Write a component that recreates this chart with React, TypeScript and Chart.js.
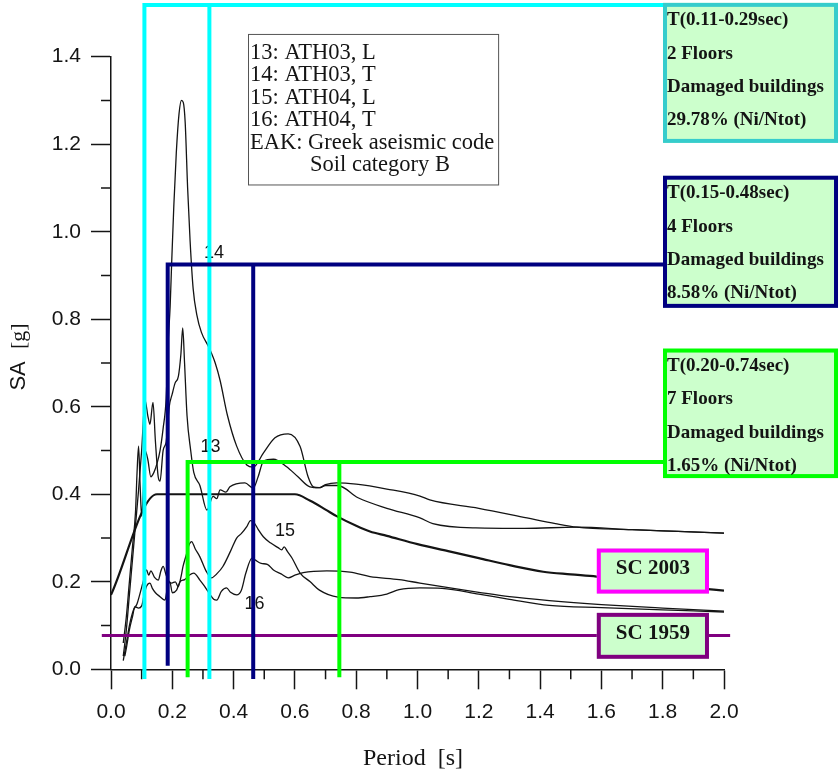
import React, { useEffect, useRef } from "react";
import { Chart, registerables } from "chart.js";

Chart.register(...registerables);

// ---------- data (period [s], SA [g]) ----------
const ath03L: [number, number][] = [
  [0.04, 0.03], [0.05, 0.09], [0.06, 0.17], [0.07, 0.25], [0.08, 0.33], [0.09, 0.41], [0.1, 0.5],
  [0.111, 0.615], [0.12, 0.58], [0.127, 0.56], [0.137, 0.61], [0.145, 0.52], [0.154, 0.44], [0.16, 0.43],
  [0.17, 0.5], [0.18, 0.52], [0.19, 0.6], [0.2, 0.63], [0.209, 0.654], [0.22, 0.67], [0.228, 0.72],
  [0.234, 0.78], [0.24, 0.7], [0.248, 0.58], [0.26, 0.5], [0.27, 0.45], [0.29, 0.42], [0.313, 0.364],
  [0.333, 0.395], [0.345, 0.39], [0.356, 0.41], [0.375, 0.405], [0.388, 0.417], [0.437, 0.426],
  [0.464, 0.414], [0.48, 0.44], [0.497, 0.475], [0.53, 0.48], [0.573, 0.463], [0.61, 0.44],
  [0.649, 0.417], [0.68, 0.415], [0.7, 0.42], [0.74, 0.42], [0.806, 0.392], [0.9, 0.368],
  [1.008, 0.346], [1.05, 0.333], [1.19, 0.323], [1.35, 0.322], [1.52, 0.325], [1.7, 0.319],
  [1.85, 0.315], [2.0, 0.311],
];
const ath03T: [number, number][] = [
  [0.04, 0.06], [0.05, 0.12], [0.06, 0.2], [0.07, 0.28], [0.08, 0.36], [0.085, 0.45], [0.09, 0.51],
  [0.095, 0.42], [0.1, 0.35], [0.105, 0.4], [0.111, 0.5], [0.12, 0.48], [0.13, 0.44], [0.14, 0.45],
  [0.15, 0.47], [0.16, 0.5], [0.17, 0.55], [0.18, 0.62], [0.186, 0.74], [0.193, 0.83], [0.198, 0.93],
  [0.205, 1.06], [0.213, 1.18], [0.222, 1.27], [0.23, 1.3], [0.236, 1.295], [0.242, 1.25], [0.25, 1.1],
  [0.258, 0.98], [0.268, 0.87], [0.28, 0.81], [0.295, 0.77], [0.32, 0.735], [0.34, 0.7], [0.356, 0.66],
  [0.38, 0.58], [0.41, 0.51], [0.443, 0.467], [0.464, 0.462], [0.497, 0.494], [0.535, 0.529],
  [0.578, 0.538], [0.617, 0.509], [0.643, 0.44], [0.66, 0.417], [0.68, 0.415], [0.7, 0.422],
  [0.736, 0.426], [0.8, 0.423], [0.9, 0.412], [1.008, 0.396], [1.04, 0.387], [1.2, 0.368],
  [1.357, 0.346], [1.45, 0.333], [1.52, 0.325], [1.7, 0.319], [1.85, 0.315], [2.0, 0.311],
];
const ath04L: [number, number][] = [
  [0.04, 0.02], [0.05, 0.06], [0.06, 0.1], [0.073, 0.135], [0.085, 0.15], [0.095, 0.174], [0.105, 0.2],
  [0.116, 0.227], [0.123, 0.215], [0.13, 0.225], [0.142, 0.21], [0.154, 0.204], [0.163, 0.225],
  [0.17, 0.235], [0.18, 0.215], [0.19, 0.2], [0.198, 0.197], [0.21, 0.2], [0.219, 0.189], [0.228, 0.21],
  [0.235, 0.235], [0.245, 0.26], [0.255, 0.285], [0.263, 0.292], [0.275, 0.275], [0.29, 0.257],
  [0.31, 0.225], [0.328, 0.209], [0.345, 0.218], [0.365, 0.235], [0.39, 0.27], [0.41, 0.3],
  [0.425, 0.31], [0.443, 0.326], [0.455, 0.34], [0.465, 0.337], [0.48, 0.32], [0.497, 0.303],
  [0.52, 0.289], [0.545, 0.278], [0.557, 0.273], [0.565, 0.28], [0.575, 0.27], [0.59, 0.255],
  [0.617, 0.22], [0.65, 0.2], [0.68, 0.181], [0.741, 0.165], [0.8, 0.163], [0.845, 0.166],
  [0.9, 0.172], [0.94, 0.182], [1.008, 0.186], [1.08, 0.185], [1.2, 0.172], [1.3, 0.16],
  [1.43, 0.146], [1.6, 0.141], [1.8, 0.136], [2.0, 0.131],
];
const ath04T: [number, number][] = [
  [0.045, 0.03], [0.051, 0.052], [0.06, 0.09], [0.07, 0.12], [0.078, 0.143], [0.09, 0.14], [0.1, 0.145],
  [0.108, 0.17], [0.116, 0.19], [0.127, 0.197], [0.135, 0.185], [0.145, 0.175], [0.16, 0.166],
  [0.176, 0.158], [0.185, 0.19], [0.192, 0.2], [0.2, 0.175], [0.214, 0.181], [0.225, 0.2], [0.24, 0.205],
  [0.255, 0.215], [0.27, 0.22], [0.29, 0.204], [0.305, 0.19], [0.32, 0.174], [0.335, 0.16],
  [0.345, 0.158], [0.36, 0.178], [0.377, 0.186], [0.39, 0.176], [0.41, 0.17], [0.425, 0.18],
  [0.44, 0.22], [0.46, 0.254], [0.47, 0.25], [0.49, 0.242], [0.51, 0.24], [0.53, 0.227],
  [0.555, 0.218], [0.578, 0.209], [0.6, 0.215], [0.627, 0.221], [0.704, 0.225], [0.78, 0.222],
  [0.845, 0.212], [0.94, 0.205], [1.008, 0.197], [1.106, 0.186], [1.2, 0.176], [1.3, 0.166],
  [1.43, 0.157], [1.6, 0.148], [1.8, 0.14], [2.0, 0.133],
];
const eakSpectrum: [number, number][] = [
  [0, 0.17], [0.15, 0.4], [0.6, 0.4], [0.65, 0.385], [0.7, 0.365], [0.736, 0.35], [0.8, 0.328],
  [0.845, 0.315], [0.9, 0.305], [1.0, 0.286], [1.1, 0.27], [1.2, 0.254], [1.3, 0.238], [1.41, 0.223],
  [1.5, 0.217], [1.584, 0.212], [1.7, 0.2], [1.8, 0.193], [1.9, 0.186], [2.0, 0.18],
];

const curveLabels = ["13", "14", "15", "16"];
const curveLabelAt: [number, number][] = [[0.325, 0.507], [0.336, 0.951], [0.568, 0.316], [0.468, 0.149]];

const legendLines = [
  "13: ATH03, L",
  "14: ATH03, T",
  "15: ATH04, L",
  "16: ATH04, T",
  "EAK: Greek aseismic code",
  "Soil category B",
];

const floorTexts = [
  ["T(0.11-0.29sec)", "2 Floors", "Damaged buildings", "29.78% (Ni/Ntot)"],
  ["T(0.15-0.48sec)", "4 Floors", "Damaged buildings", "8.58% (Ni/Ntot)"],
  ["T(0.20-0.74sec)", "7 Floors", "Damaged buildings", "1.65% (Ni/Ntot)"],
];
const floorPeriods: [number, number][] = [[0.109, 0.321], [0.185, 0.464], [0.25, 0.745]];
const floorLevels = [1.518, 0.925, 0.474];
const floorBases: [number, number][] = [[-0.022, -0.022], [0.008, -0.022], [-0.018, -0.018]];

const sc1959Level = 0.077;
const sc1959Span: [number, number] = [-0.03, 2.02];

// ---------- annotation placement (axis units) ----------
const floorBoxX: [number, number] = [1.801, 2.372];
const floorBoxY: [number, number][] = [[1.523, 1.203], [1.128, 0.826], [0.733, 0.437]];
const scBoxX: [number, number] = [1.585, 1.951];
const sc2003BoxY: [number, number] = [0.276, 0.173];
const sc1959BoxY: [number, number] = [0.129, 0.024];
const legendBoxX: [number, number] = [0.447, 1.263];
const legendBoxY: [number, number] = [1.452, 1.108];

const LINE_COLORS = ["#00ffff", "#000080", "#00ff00"];
const BOX_COLORS = ["#36cccc", "#000080", "#00ff00"];
const BOX_FILL = "#ccffcc";
const INK = "#141414";
const SANS = '"Liberation Sans", Arial, Helvetica, sans-serif';
const SERIF = '"Liberation Serif", "Times New Roman", serif';

const overlayPlugin = {
  id: "overlay",
  afterDatasetsDraw(chart: any) {
    const { ctx } = chart;
    const xs = chart.scales.x;
    const ys = chart.scales.y;
    const X = (v: number) => xs.getPixelForValue(v);
    const Y = (v: number) => ys.getPixelForValue(v);
    ctx.save();

    // minor ticks
    ctx.strokeStyle = INK;
    ctx.lineWidth = 1.5;
    ctx.beginPath();
    for (let i = 1; i < 20; i += 2) {
      const px = X(i / 10);
      ctx.moveTo(px, Y(0));
      ctx.lineTo(px, Y(0) + 10);
    }
    for (let i = 1; i < 14; i += 2) {
      const py = Y(i / 10);
      ctx.moveTo(X(0), py);
      ctx.lineTo(X(0) - 10, py);
    }
    ctx.stroke();

    // curve number labels
    ctx.fillStyle = INK;
    ctx.font = `18px ${SANS}`;
    ctx.textAlign = "center";
    ctx.textBaseline = "middle";
    curveLabels.forEach((t, i) => ctx.fillText(t, X(curveLabelAt[i][0]), Y(curveLabelAt[i][1])));

    // legend box
    const lx0 = X(legendBoxX[0]), lx1 = X(legendBoxX[1]);
    const ly0 = Y(legendBoxY[0]), ly1 = Y(legendBoxY[1]);
    ctx.fillStyle = "#ffffff";
    ctx.fillRect(lx0, ly0, lx1 - lx0, ly1 - ly0);
    ctx.strokeStyle = "#555";
    ctx.lineWidth = 1;
    ctx.strokeRect(lx0 + 0.5, ly0 + 0.5, lx1 - lx0, ly1 - ly0);
    ctx.fillStyle = INK;
    ctx.font = `22.5px ${SERIF}`;
    ctx.textAlign = "left";
    ctx.textBaseline = "alphabetic";
    legendLines.forEach((t, i) => {
      const indent = i === legendLines.length - 1 ? 62 : 2;
      ctx.fillText(t, lx0 + indent, ly0 + 25 + i * 22.4);
    });

    // SC 1959 line
    ctx.strokeStyle = "#800080";
    ctx.lineWidth = 3;
    ctx.beginPath();
    ctx.moveTo(X(sc1959Span[0]), Y(sc1959Level));
    ctx.lineTo(X(sc1959Span[1]), Y(sc1959Level));
    ctx.stroke();

    const box = (x0: number, y0: number, x1: number, y1: number, color: string, lw: number) => {
      ctx.fillStyle = BOX_FILL;
      ctx.fillRect(x0, y0, x1 - x0, y1 - y0);
      ctx.strokeStyle = color;
      ctx.lineWidth = lw;
      ctx.strokeRect(x0 + lw / 2, y0 + lw / 2, x1 - x0 - lw, y1 - y0 - lw);
    };

    // floor groups
    floorPeriods.forEach((p, i) => {
      ctx.strokeStyle = LINE_COLORS[i];
      ctx.lineWidth = 4;
      ctx.lineCap = "butt";
      ctx.beginPath();
      ctx.moveTo(X(p[0]), Y(floorBases[i][0]));
      ctx.lineTo(X(p[0]), Y(floorLevels[i]));
      ctx.lineTo(X(floorBoxX[0]) + 2, Y(floorLevels[i]));
      ctx.moveTo(X(p[1]), Y(floorBases[i][1]));
      ctx.lineTo(X(p[1]), Y(floorLevels[i]));
      ctx.stroke();
    });
    floorTexts.forEach((lines, i) => {
      const x0 = X(floorBoxX[0]), x1 = X(floorBoxX[1]);
      const y0 = Y(floorBoxY[i][0]), y1 = Y(floorBoxY[i][1]);
      box(x0, y0, x1, y1, BOX_COLORS[i], 4);
      ctx.fillStyle = INK;
      ctx.font = `bold 19px ${SERIF}`;
      ctx.textAlign = "left";
      ctx.textBaseline = "alphabetic";
      lines.forEach((t, k) => ctx.fillText(t, x0 + 4, y0 + 22.5 + k * 33.3));
    });

    // SC boxes
    const scBox = (yy: [number, number], color: string, label: string) => {
      const x0 = X(scBoxX[0]), x1 = X(scBoxX[1]);
      const y0 = Y(yy[0]), y1 = Y(yy[1]);
      box(x0, y0, x1, y1, color, 4);
      ctx.fillStyle = INK;
      ctx.font = `bold 21px ${SERIF}`;
      ctx.textAlign = "center";
      ctx.textBaseline = "alphabetic";
      ctx.fillText(label, (x0 + x1) / 2, (y0 + y1) / 2 + 3);
    };
    scBox(sc2003BoxY, "#ff00ff", "SC 2003");
    scBox(sc1959BoxY, "#800080", "SC 1959");

    // axis titles
    ctx.fillStyle = INK;
    ctx.font = `24px ${SERIF}`;
    ctx.textAlign = "center";
    ctx.textBaseline = "alphabetic";
    ctx.fillText("Period  [s]", 413, chart.height - 6);

    ctx.save();
    ctx.translate(25, 357);
    ctx.rotate(-Math.PI / 2);
    ctx.font = `22px ${SANS}`;
    const wSA = ctx.measureText("SA  ").width;
    ctx.font = `22px ${SERIF}`;
    const wG = ctx.measureText("[g]").width;
    const start = -(wSA + wG) / 2;
    ctx.textAlign = "left";
    ctx.font = `22px ${SANS}`;
    ctx.fillText("SA  ", start, 0);
    ctx.font = `22px ${SERIF}`;
    ctx.fillText("[g]", start + wSA, 0);
    ctx.restore();

    ctx.restore();
  },
};

export default function App() {
  const ref = useRef<HTMLCanvasElement>(null);
  useEffect(() => {
    document.body.style.margin = "0";
    const canvas = ref.current;
    if (!canvas) return;
    const toPts = (a: [number, number][]) => a.map(([x, y]) => ({ x, y }));
    const ds = (label: string, pts: [number, number][], w: number) => ({
      label,
      data: toPts(pts),
      borderColor: INK,
      backgroundColor: INK,
      borderWidth: w,
      pointRadius: 0,
      showLine: true,
      cubicInterpolationMode: "monotone",
      fill: false,
    });
    const tickFont = { family: SANS, size: 21 };
    const chart = new Chart(canvas, {
      type: "scatter",
      data: {
        datasets: [
          ds("13: ATH03, L", ath03L, 1.3),
          ds("14: ATH03, T", ath03T, 1.3),
          ds("15: ATH04, L", ath04L, 1.3),
          ds("16: ATH04, T", ath04T, 1.3),
          ds("EAK", eakSpectrum, 2.2),
        ],
      },
      options: {
        animation: false,
        responsive: true,
        maintainAspectRatio: false,
        layout: { padding: { top: 56.7, right: 115, left: 0, bottom: 0 } },
        plugins: { legend: { display: false }, tooltip: { enabled: false } },
        scales: {
          x: {
            type: "linear",
            min: 0,
            max: 2,
            afterFit: (s: any) => {
              s.height = 101.7;
            },
            ticks: {
              stepSize: 0.2,
              callback: (v: any) => Number(v).toFixed(1),
              font: tickFont,
              color: INK,
              padding: 10,
              maxRotation: 0,
              autoSkip: false,
            },
            grid: { drawOnChartArea: false, drawTicks: true, tickLength: 20, tickColor: INK, tickWidth: 1.5 },
            border: { display: true, color: INK, width: 1.5 },
          },
          y: {
            type: "linear",
            min: 0,
            max: 1.4,
            afterFit: (s: any) => {
              s.width = 111;
            },
            ticks: {
              stepSize: 0.2,
              callback: (v: any) => Number(v).toFixed(1),
              font: tickFont,
              color: INK,
              padding: 10,
              autoSkip: false,
            },
            grid: { drawOnChartArea: false, drawTicks: true, tickLength: 20, tickColor: INK, tickWidth: 1.5 },
            border: { display: true, color: INK, width: 1.5 },
          },
        },
      } as any,
      plugins: [overlayPlugin],
    });
    return () => chart.destroy();
  }, []);
  return (
    <div style={{ width: 839, height: 771, position: "relative", background: "#fff" }}>
      <canvas ref={ref} />
    </div>
  );
}
